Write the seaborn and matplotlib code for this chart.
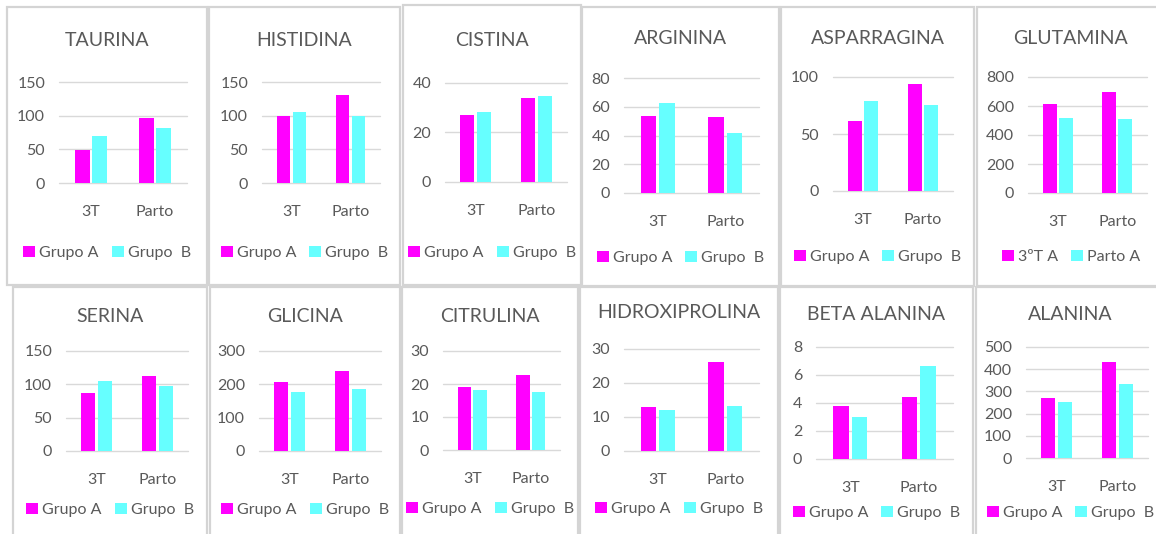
"""Amino acid levels by group (A / B) at 3rd trimester and delivery: 12 small bar charts."""

import matplotlib

matplotlib.use("Agg")
import matplotlib.pyplot as plt
import pandas as pd
import seaborn as sns
from matplotlib.patches import Rectangle

TITLES = ["TAURINA", "HISTIDINA", "CISTINA", "ARGININA", "ASPARRAGINA", "GLUTAMINA",
          "SERINA", "GLICINA", "CITRULINA", "HIDROXIPROLINA", "BETA ALANINA", "ALANINA"]
PERIODS = ["3T", "Parto"]
GRUPO_A_3T = [49, 99, 27.1, 53.4, 61, 614, 87, 206, 19.1, 12.8, 3.76, 272]
GRUPO_B_3T = [70, 106, 28.3, 62.8, 79, 515, 105, 176, 18.3, 12.2, 3.02, 251]
GRUPO_A_PARTO = [96, 130, 33.8, 52.7, 94, 694, 112, 240, 22.8, 26.2, 4.41, 432]
GRUPO_B_PARTO = [82, 99, 34.7, 41.7, 75.6, 508, 97, 186, 17.5, 13.3, 6.63, 335]
Y_MAX = [150, 150, 40, 80, 100, 800, 150, 300, 30, 30, 8, 500]
Y_STEP = [50, 50, 20, 20, 50, 200, 50, 100, 10, 10, 2, 100]
LEGEND_LABELS = [["Grupo A", "Grupo  B"]] * 5 + [["3ºT A", "Parto A"]] + [["Grupo A", "Grupo  B"]] * 6

# layout in pixels (x0, y0, x1, y1), y measured from top
W, H = 1156, 534
PANEL_BOX = [(7, 7, 207, 285), (209, 7, 400, 285), (403, 5, 581, 285),
             (582, 7, 779, 286), (781, 7, 974, 286), (977, 7, 1165, 286),
             (13, 287, 207, 540), (210, 287, 400, 540), (402, 287, 578, 540),
             (580, 287, 778, 540), (780, 287, 973, 540), (976, 287, 1165, 540)]
AXES_BOX = [(59, 82, 187, 183), (262, 82, 380, 183), (445, 83, 567, 182),
            (624, 78, 759, 193), (833, 77, 953, 191), (1028, 77, 1147, 193),
            (66, 351, 188, 451), (259, 351, 381, 451), (443, 351, 560, 450),
            (624, 349, 759, 451), (816, 347, 953, 459), (1026, 347, 1148, 458)]
TITLE_Y = [40, 40, 40, 38, 38, 38, 317, 317, 316, 313, 315, 315]
LEGEND_Y = [253, 253, 253, 258, 257, 257, 510, 510, 509, 509, 513, 513]

MAGENTA = "#FF00FF"
CYAN = "#66FFFF"
GREY = "#595959"

sns.set_theme(style="white")
plt.rcParams["font.family"] = ["Lato", "DejaVu Sans"]

fig = plt.figure(figsize=(W / 100, H / 100), dpi=100)


def fx(px):
    return px / W


def fy(py):
    return 1 - py / H


for i, title in enumerate(TITLES):
    px0, py0, px1, py1 = PANEL_BOX[i]
    fig.patches.append(Rectangle((fx(px0), fy(py1)), fx(px1 - px0), (py1 - py0) / H,
                                 transform=fig.transFigure, fill=False,
                                 edgecolor="#D4D4D4", linewidth=1.6, zorder=0))
    cx = (px0 + px1) / 2
    fig.text(fx(cx), fy(TITLE_Y[i]), title, ha="center", va="center",
             fontsize=14, color=GREY)

    ax0, ay0, ax1, ay1 = AXES_BOX[i]
    ax = fig.add_axes([fx(ax0), fy(ay1), fx(ax1 - ax0), (ay1 - ay0) / H])
    la, lb = LEGEND_LABELS[i]
    df = pd.DataFrame({
        "periodo": PERIODS * 2,
        "grupo": [la, la, lb, lb],
        "valor": [GRUPO_A_3T[i], GRUPO_A_PARTO[i], GRUPO_B_3T[i], GRUPO_B_PARTO[i]],
    })
    sns.barplot(data=df, x="periodo", y="valor", hue="grupo", order=PERIODS,
                hue_order=[la, lb], palette=[MAGENTA, CYAN], width=0.54, gap=0.15,
                linewidth=0, saturation=1, errorbar=None, ax=ax)
    ax.set_ylim(0, Y_MAX[i])
    ax.set_yticks(range(0, Y_MAX[i] + 1, Y_STEP[i]))
    ax.set_xlabel("")
    ax.set_ylabel("")
    ax.set_facecolor("none")
    sns.despine(ax=ax, left=True, bottom=True)
    ax.grid(axis="y", color="#D9D9D9", linewidth=1)
    ax.set_axisbelow(True)
    for gl in ax.get_ygridlines():
        gl.set_clip_on(False)
    ax.tick_params(axis="y", length=0, pad=10, labelsize=11.5, labelcolor=GREY)
    ax.tick_params(axis="x", length=0, pad=16, labelsize=11.5, labelcolor=GREY)

    ax.legend(loc="center", bbox_to_anchor=(fx(cx), fy(LEGEND_Y[i])),
              bbox_transform=fig.transFigure, ncol=2, frameon=False,
              fontsize=11.5, labelcolor=GREY, handlelength=0.75, handleheight=0.75,
              handletextpad=0.25, columnspacing=0.8, borderpad=0)

fig.savefig("out.png", dpi=100, facecolor="white")
